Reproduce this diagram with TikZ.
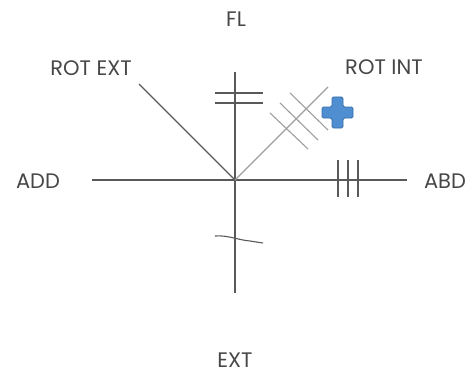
\documentclass[tikz,border=0pt]{standalone}
\usepackage{fontspec}
\setmainfont{Poppins}
\begin{document}
\begin{tikzpicture}[x=1pt,y=-1pt,
  axis/.style={draw=black!65,line width=1.1pt},
  light/.style={draw=black!38,line width=1.1pt},
  lbl/.style={font=\fontsize{21}{24}\selectfont,text=black!72,inner sep=0pt}]
\useasboundingbox (0,0) rectangle (473,377);
\coordinate (O) at (235,180);
\coordinate (top) at (235,72);
\coordinate (bot) at (235,293);
\coordinate (left) at (92,180);
\coordinate (right) at (407,180);
\coordinate (ul) at (139,84);
\coordinate (ur) at (328,87);
% labels
\node[lbl] (fl) at (236,19) {FL};
\node[lbl] (rotext) at (91,68) {ROT EXT};
\node[lbl] (rotint) at (384,67) {ROT INT};
\node[lbl] (add) at (38,181) {ADD};
\node[lbl] (abd) at (445,181) {ABD};
\node[lbl] (ext) at (235,360) {EXT};
% axes
\draw[axis] (top) -- (bot);
\draw[axis] (left) -- (right);
\draw[axis] (ul) -- (O);
\draw[light] (O) -- (ur);
% ticks on vertical
\draw[axis] (215,93) -- (263,93);
\draw[axis] (215,103) -- (263,103);
% ticks on right diagonal
\draw[light] (270,113) -- (308,149);
\draw[light] (280,103) -- (318,140);
\draw[light] (290,93) -- (328,130);
% ticks on horizontal
\draw[axis] (338,160) -- (338,197);
\draw[axis] (348,160) -- (348,197);
\draw[axis] (358,160) -- (358,197);
% wavy tick
\draw[axis] (215,236) .. controls (228,235) and (238,240) .. (250,241) -- (263,243);
% blue cross
\filldraw[fill={rgb,255:red,79;green,142;blue,208},draw={rgb,255:red,58;green,108;blue,168},line width=0.8pt,rounded corners=1.5pt]
 (332,97) -- (343,97) -- (343,107) -- (353,107) -- (353,118) -- (343,118) -- (343,128) -- (332,128) -- (332,118) -- (322,118) -- (322,107) -- (332,107) -- cycle;
\end{tikzpicture}
\end{document}
